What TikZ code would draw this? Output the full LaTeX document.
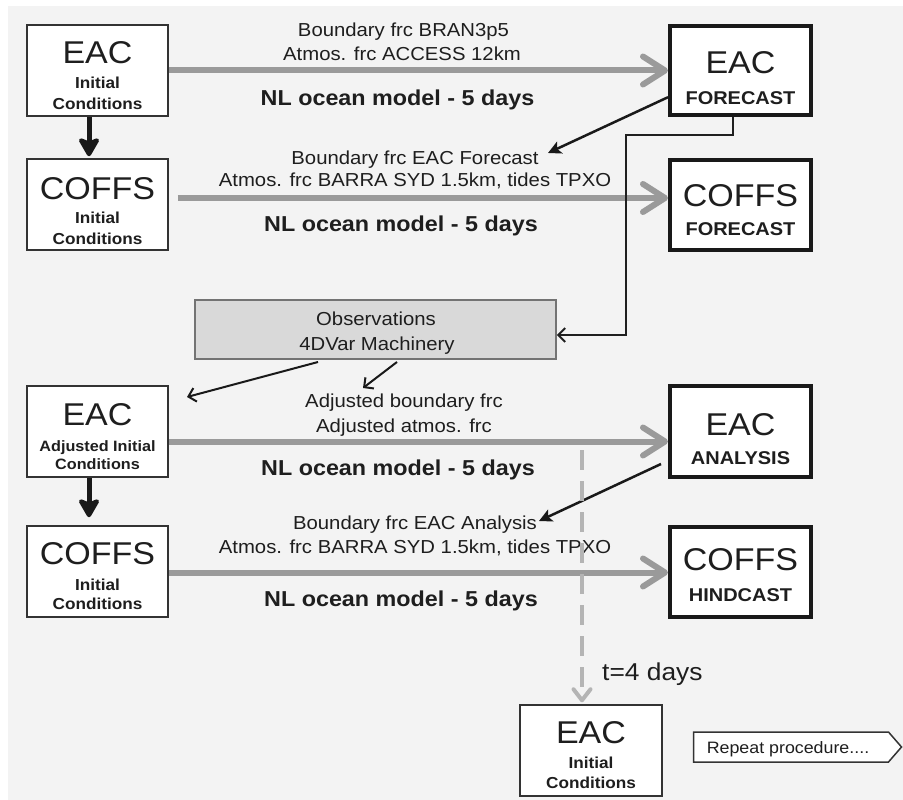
\documentclass[tikz,border=0pt]{standalone}
\usepackage{fontspec}
\setmainfont{Liberation Sans}[FakeStretch=1.08]
\usetikzlibrary{arrows.meta,calc,shapes.symbols}
\definecolor{bgc}{HTML}{F3F3F3}
\definecolor{txtc}{HTML}{1E1E1E}
\definecolor{boxc}{HTML}{333333}
\definecolor{arrgray}{HTML}{9A9A9A}
\definecolor{dashgray}{HTML}{B4B4B4}
\definecolor{obsfill}{HTML}{D9D9D9}
\tikzset{
  txt/.style={anchor=base, inner sep=0, text=txtc},
  big/.style={txt, font=\fontsize{31.5}{36}\selectfont},
  sub/.style={txt, font=\bfseries\fontsize{15.9}{18}\selectfont},
  subs/.style={txt, font=\bfseries\fontsize{15}{17}\selectfont},
  cast/.style={txt, font=\bfseries\fontsize{18.5}{21}\selectfont},
  lab/.style={txt, font=\fontsize{18.8}{22}\selectfont},
  nl/.style={txt, font=\bfseries\fontsize{21.6}{24}\selectfont},
  thinbox/.style={draw=boxc, line width=1.5, fill=white, inner sep=0, minimum width=141, minimum height=91},
  thickbox/.style={draw=black!90, line width=4, fill=white, inner sep=0, minimum width=141, minimum height=90},
  grayarrow/.style={draw=arrgray, line width=6, -{Straight Barb[length=22pt, width=28pt, line width=6pt, round]}},
  dasharrow/.style={draw=dashgray, line width=4, dash pattern=on 20pt off 11pt, -{Straight Barb[length=11pt, width=17pt, line width=4pt, round]}},
  fatarrow/.style={draw=black!90, line width=5, -{Stealth[length=22pt, width=25pt, inset=5pt, round]}},
  blkarrow/.style={draw=black!90, line width=2.5, -{Stealth[length=13pt, width=13pt, inset=3pt]}},
  obsarrow/.style={draw=black!90, line width=2, -{Straight Barb[length=7pt, width=14pt]}},
  conn/.style={draw=black!88, line width=2}
}
\begin{document}
\begin{tikzpicture}[x=1pt,y=-1pt]
\useasboundingbox (0,0) rectangle (903,800);
\fill[white] (0,0) rectangle (903,800);
\fill[bgc] (8,6) rectangle (903,800);

% ---------- boxes ----------
\node[thinbox] (eac1) at (97.5,70.5) {};
\node[thinbox] (coffs1) at (97.5,204.5) {};
\node[thickbox, minimum height=89] (eacf) at (740.5,70.7) {};
\node[thickbox, minimum height=89.4] (coffsf) at (740.5,205) {};
\node[draw=black!55, line width=1.5, fill=obsfill, inner sep=0, minimum width=361, minimum height=59] (obs) at (375.5,329.5) {};
\node[thinbox] (eac2) at (97.5,431.5) {};
\node[thinbox] (coffs2) at (97.5,571.5) {};
\node[thickbox, minimum height=91] (eaca) at (740.5,431.8) {};
\node[thickbox, minimum height=90.3] (coffsh) at (740.5,572.2) {};
\node[thinbox, minimum width=142] (eac3) at (591,750.5) {};
\node[draw=boxc, line width=1.5, fill=white, inner sep=0, signal, signal to=east, signal pointer angle=98, minimum width=208, minimum height=30] (rep) at (791,747) {};

% ---------- box texts ----------
\node[big] (e1a) at (97.5,63.3) {EAC};
\node[sub] (e1b) at (97.5,88.3) {Initial};
\node[sub] (e1c) at (97.5,109.3) {Conditions};
\node[big] (c1a) at (97.5,199) {COFFS};
\node[sub] (c1b) at (97.5,223.3) {Initial};
\node[sub] (c1c) at (97.5,244) {Conditions};
\node[big] (efa) at (740.5,74) {EAC};
\node[cast] (efb) at (740.5,104.3) {FORECAST};
\node[big] (cfa) at (740.5,206.7) {COFFS};
\node[cast] (cfb) at (740.5,235) {FORECAST};
\node[lab] (oa) at (376,325) {Observations};
\node[lab] (ob) at (377,350) {4DVar Machinery};
\node[big] (e2a) at (97.5,425) {EAC};
\node[subs] (e2b) at (97.5,451.7) {Adjusted Initial};
\node[subs] (e2c) at (97.5,469) {Conditions};
\node[big] (c2a) at (97.5,564) {COFFS};
\node[sub] (c2b) at (97.5,590) {Initial};
\node[sub] (c2c) at (97.5,609.3) {Conditions};
\node[big] (eaa) at (740.5,435) {EAC};
\node[cast] (eab) at (740.5,464) {ANALYSIS};
\node[big] (cha) at (740.5,570.7) {COFFS};
\node[cast] (chb) at (740.5,601.7) {HINDCAST};
\node[big] (e3a) at (591,743.3) {EAC};
\node[sub] (e3b) at (591,768.3) {Initial};
\node[sub] (e3c) at (591,788.3) {Conditions};
\node[txt, font=\fontsize{16.5}{19}\selectfont] (rept) at (788,753.3) {Repeat procedure....};

% ---------- arrow labels ----------
\node[lab] (l1a) at (403.5,36.7) {Boundary frc BRAN3p5};
\node[lab] (l1b) at (402,61) {Atmos. frc ACCESS 12km};
\node[nl]  (l1c) at (397.5,106) {NL ocean model - 5 days};
\node[lab] (l2a) at (415,164) {Boundary frc EAC Forecast};
\node[lab] (l2b) at (415,186.7) {Atmos. frc BARRA SYD 1.5km, tides TPXO};
\node[nl]  (l2c) at (401,231.7) {NL ocean model - 5 days};
\node[lab] (l3a) at (404,407) {Adjusted boundary frc};
\node[lab] (l3b) at (404,432.7) {Adjusted atmos. frc};
\node[nl]  (l3c) at (398,475) {NL ocean model - 5 days};
\node[lab] (l4a) at (415,529) {Boundary frc EAC Analysis};
\node[lab] (l4b) at (415,553) {Atmos. frc BARRA SYD 1.5km, tides TPXO};
\node[nl]  (l4c) at (401,606.7) {NL ocean model - 5 days};
\node[txt, anchor=base west, font=\fontsize{24.4}{28}\selectfont] (tday) at (602,680) {t=4 days};

% ---------- free ends ----------
\coordinate (f1) at (548,153);
\coordinate (f2) at (661,464);
\coordinate (f3) at (539,521);
\coordinate (o1s) at (318,362);
\coordinate (o1e) at (187,397);
\coordinate (o2s) at (397,362);
\coordinate (o2e) at (363,388);
\coordinate (dtop) at (582,450);

% ---------- connectors ----------
\draw[grayarrow] (eac1.east) -- (eac1.east -| eacf.west);
\draw[grayarrow] ($(coffs1.east)+(9,-6.5)$) -- ($(coffsf.west)+(0,-7)$);
\draw[grayarrow] ($(eac2.east)+(0,10)$) -- ($(eaca.west)+(0,9.7)$);
\draw[grayarrow] ($(coffs2.east)+(0,1)$) -- ($(coffsh.west)+(0,0.3)$);

\draw[fatarrow] ($(eac1.south)+(-8.5,0)$) -- ($(coffs1.north)+(-8.5,-2)$);
\draw[fatarrow] ($(eac2.south)+(-8.5,0)$) -- ($(coffs2.north)+(-8.5,-8)$);

\draw[blkarrow] ($(eacf.west)+(0,26.5)$) -- (f1);
\draw[blkarrow] (f2) -- (f3);

\draw[conn, -{Straight Barb[length=7pt, width=14pt]}] ($(eacf.south)+(-7.5,0)$) -- ++(0,18) -| (626,335) -- ($(obs.east)+(0,5.5)$);

\draw[obsarrow] (o1s) -- (o1e);
\draw[obsarrow] (o2s) -- (o2e);

\draw[dasharrow] (dtop) -- ($(eac3.north)+(-9,-2)$);
\end{tikzpicture}
\end{document}
